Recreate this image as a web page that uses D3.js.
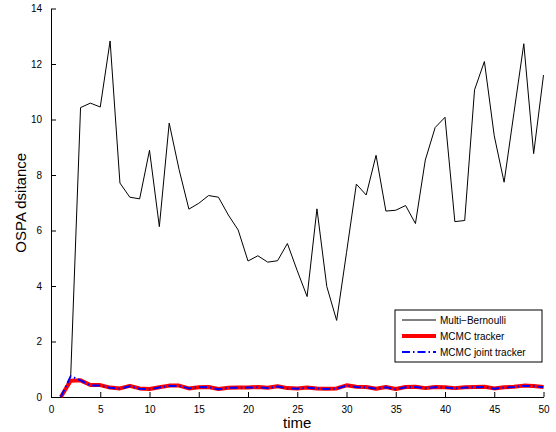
<!DOCTYPE html>
<html>
<head>
<meta charset="utf-8">
<script src="https://cdn.jsdelivr.net/npm/d3@7"></script>
<style>
  body { margin: 0; background: #fff; }
  svg { font-family: "Liberation Sans", Arial, sans-serif; }
  .axis path, .axis line { stroke: #000; }
  .axis text { font-size: 10px; fill: #000; }
</style>
</head>
<body>
<div id="chart"><svg width="556" height="432"></svg></div>
<script>
var times = d3.range(1, 51);

var multiBernoulli = [0, 0.75, 10.43, 10.59, 10.45, 12.83, 7.71, 7.2, 7.14, 8.89,
  6.14, 9.87, 8.2, 6.77, 6.98, 7.26, 7.2, 6.56, 6.02, 4.9,
  5.09, 4.86, 4.91, 5.53, 4.55, 3.62, 6.78, 3.98, 2.76, 5.2,
  7.67, 7.28, 8.71, 6.7, 6.73, 6.9, 6.25, 8.54, 9.71, 10.08,
  6.32, 6.36, 11.07, 12.09, 9.41, 7.74, 10.24, 12.73, 8.77, 11.6];

var mcmcTracker = [0, 0.59, 0.6, 0.43, 0.43, 0.34, 0.31, 0.4, 0.31, 0.29,
  0.35, 0.41, 0.41, 0.31, 0.35, 0.36, 0.29, 0.33, 0.34, 0.34,
  0.36, 0.33, 0.39, 0.32, 0.31, 0.34, 0.31, 0.3, 0.31, 0.42,
  0.37, 0.36, 0.3, 0.36, 0.29, 0.36, 0.37, 0.32, 0.36, 0.35,
  0.32, 0.35, 0.36, 0.37, 0.31, 0.35, 0.37, 0.41, 0.4, 0.36];

var mcmcJoint = [0, 0.75, 0.6, 0.42, 0.41, 0.33, 0.3, 0.39, 0.3, 0.28,
  0.34, 0.4, 0.4, 0.31, 0.36, 0.35, 0.28, 0.33, 0.33, 0.34,
  0.35, 0.32, 0.38, 0.31, 0.3, 0.33, 0.31, 0.29, 0.3, 0.41,
  0.36, 0.35, 0.3, 0.35, 0.28, 0.35, 0.36, 0.32, 0.35, 0.34,
  0.31, 0.34, 0.35, 0.36, 0.3, 0.34, 0.36, 0.4, 0.39, 0.35];

var xTicks = [0, 5, 10, 15, 20, 25, 30, 35, 40, 45, 50];
var yTicks = [0, 2, 4, 6, 8, 10, 12, 14];
var seriesNames = ["Multi\u2212Bernoulli", "MCMC tracker", "MCMC joint tracker"];

var svg = d3.select("#chart").select("svg");
var margin = {top: 8.5, right: 12.5, bottom: 35, left: 51};
var width = 556 - margin.left - margin.right;
var height = 432 - margin.top - margin.bottom;

var g = svg.append("g")
  .attr("transform", "translate(" + margin.left + "," + margin.top + ")");

var x = d3.scaleLinear().domain([0, 50]).range([0, width]);
var y = d3.scaleLinear().domain([0, 14]).range([height, 0]);

g.append("g")
  .attr("class", "axis x")
  .attr("transform", "translate(0," + height + ")")
  .call(d3.axisBottom(x).tickValues(xTicks).tickSizeInner(-5).tickSizeOuter(0).tickPadding(9));

g.append("g")
  .attr("class", "axis y")
  .call(d3.axisLeft(y).tickValues(yTicks).tickSizeInner(-5).tickSizeOuter(0).tickPadding(9));

var line = function(vals) {
  return d3.line()
    .x(function(d, i) { return x(times[i]); })
    .y(function(d) { return y(d); })(vals);
};

var styles = [
  {stroke: "#000", width: 1, dash: null},
  {stroke: "#ff0000", width: 4, dash: null},
  {stroke: "#0000ff", width: 2, dash: "8,3,1.5,3"}
];
var allSeries = [multiBernoulli, mcmcTracker, mcmcJoint];

allSeries.forEach(function(vals, k) {
  g.append("path")
    .attr("d", line(vals))
    .attr("fill", "none")
    .attr("stroke", styles[k].stroke)
    .attr("stroke-width", styles[k].width)
    .attr("stroke-dasharray", styles[k].dash)
    .attr("stroke-linejoin", "round");
});

// axis labels
svg.append("text")
  .attr("x", margin.left + width / 2)
  .attr("y", 428)
  .attr("text-anchor", "middle")
  .style("font-size", "15px")
  .text("time");

svg.append("text")
  .attr("transform", "translate(26," + (margin.top + height / 2) + ") rotate(-90)")
  .attr("text-anchor", "middle")
  .style("font-size", "15px")
  .text("OSPA dsitance");

// legend
var legend = svg.append("g").attr("transform", "translate(395,310)");
legend.append("rect")
  .attr("width", 147).attr("height", 52)
  .attr("fill", "#fff").attr("stroke", "#000").attr("stroke-width", 1);

seriesNames.forEach(function(name, k) {
  var ly = 10 + k * 16;
  legend.append("line")
    .attr("x1", 7).attr("x2", 41).attr("y1", ly).attr("y2", ly)
    .attr("stroke", styles[k].stroke)
    .attr("stroke-width", styles[k].width)
    .attr("stroke-dasharray", styles[k].dash);
  legend.append("text")
    .attr("x", 45).attr("y", ly + 3.5)
    .style("font-size", "10px")
    .text(name);
});
</script>
</body>
</html>
